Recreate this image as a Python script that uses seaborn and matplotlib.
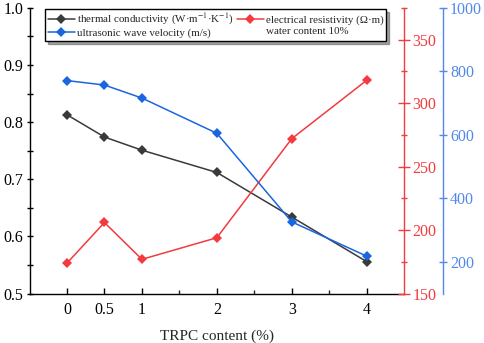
import numpy as np
import pandas as pd
import seaborn as sns
import matplotlib
matplotlib.use("Agg")
import matplotlib.pyplot as plt
from matplotlib.lines import Line2D
from matplotlib.ticker import FixedLocator, MultipleLocator, FormatStrFormatter

# data
trpc = [0, 0.5, 1, 2, 3, 4]
thermal = [0.813, 0.774, 0.751, 0.712, 0.634, 0.556]
velocity = [771, 757, 716, 605, 326, 218]
resistivity = [174, 206, 177, 194, 272, 318]
xtick_labels = ["0", "0.5", "1", "2", "3", "4"]

df = pd.DataFrame({"trpc": trpc, "thermal": thermal,
                   "velocity": velocity, "resistivity": resistivity})

sns.set_style("white")
plt.rcParams['font.family'] = ['Liberation Serif', 'DejaVu Serif']
plt.rcParams['mathtext.fontset'] = 'stix'

c_black = "#3a3a3a"
c_red = "#f23a3f"
c_blue = "#1a66e0"
c_blue_ax = "#5088ee"

fig = plt.figure(figsize=(4.84, 3.43), dpi=100)
ax = fig.add_axes([0.061, 0.144, 0.774, 0.833])
ax2 = ax.twinx()
ax3 = ax.twinx()
ax3.spines['right'].set_position(('outward', 28))

line_kw = dict(marker="D", markersize=5.5, markeredgewidth=0, linewidth=1.1)
sns.lineplot(data=df, x="trpc", y="thermal", ax=ax, color=c_black, **line_kw)
sns.lineplot(data=df, x="trpc", y="resistivity", ax=ax2, color=c_red, **line_kw)
sns.lineplot(data=df, x="trpc", y="velocity", ax=ax3, color=c_blue, **line_kw)

ax.set_xlim(-0.5, 4.5)
ax.set_ylim(0.5, 1.0)
ax2.set_ylim(150, 375)
ax3.set_ylim(100, 1000)

ax.set_xticks(trpc)
ax.set_xticklabels(xtick_labels)
ax.xaxis.set_minor_locator(FixedLocator([1.5, 2.5, 3.5]))
ax.yaxis.set_major_locator(MultipleLocator(0.1))
ax.yaxis.set_minor_locator(MultipleLocator(0.05))
ax.yaxis.set_major_formatter(FormatStrFormatter('%.1f'))
ax2.yaxis.set_major_locator(MultipleLocator(50))
ax2.yaxis.set_minor_locator(MultipleLocator(25))
ax3.set_yticks([200, 400, 600, 800, 1000])

ax.set_xlabel("TRPC content (%)", fontsize=11, labelpad=8)
ax.set_ylabel("")
ax2.set_ylabel("")
ax3.set_ylabel("")

for a in (ax, ax2, ax3):
    a.spines['top'].set_visible(False)
    for s in a.spines.values():
        s.set_linewidth(1.0)

ax.spines['right'].set_visible(False)
ax.spines['left'].set_color("black")
ax.spines['bottom'].set_color("black")
for a in (ax2, ax3):
    a.spines['left'].set_visible(False)
    a.spines['bottom'].set_visible(False)
ax2.spines['right'].set_color(c_red)
ax3.spines['right'].set_color(c_blue_ax)

ax.tick_params(axis='x', which='major', direction='in', length=4.5, width=1,
               labelsize=11.5, pad=6, colors='black', bottom=True)
ax.tick_params(axis='x', which='minor', direction='in', length=3, width=1, bottom=True)
ax.tick_params(axis='y', which='both', direction='inout', length=5, width=1,
               labelsize=11.5, colors='black', left=True, right=False, pad=2)
ax2.tick_params(axis='y', which='major', direction='inout', length=8, width=1,
                labelsize=11.5, colors=c_red, right=True, pad=2)
ax2.tick_params(axis='y', which='minor', direction='inout', length=5, width=1,
                colors=c_red, right=True)
ax3.tick_params(axis='y', which='major', direction='inout', length=6, width=1,
                labelsize=11.5, colors=c_blue_ax, right=True, pad=2)

handles = [
    Line2D([], [], color=c_black, **line_kw),
    Line2D([], [], color=c_blue, **line_kw),
    Line2D([], [], color=c_red, **line_kw),
    Line2D([], [], linestyle="none"),
]
labels = [
    "thermal conductivity (W·m$^{-1}$·K$^{-1}$)",
    "ultrasonic wave velocity (m/s)",
    "electrical resistivity (Ω·m)",
    "water content 10%",
]
for a in (ax, ax2):
    if a.get_legend() is not None:
        a.get_legend().remove()
leg = ax3.legend(handles, labels, ncol=2, loc="upper left",
                 bbox_to_anchor=(0.041, 0.997), borderaxespad=0,
                 fontsize=7.9, frameon=True, fancybox=False, shadow=True,
                 handlelength=2.5, handletextpad=0.15, columnspacing=0.3,
                 labelspacing=0.15, borderpad=0.25)
leg.get_frame().set_edgecolor("black")
leg.get_frame().set_linewidth(1.0)

fig.savefig("out.png", dpi=100)
